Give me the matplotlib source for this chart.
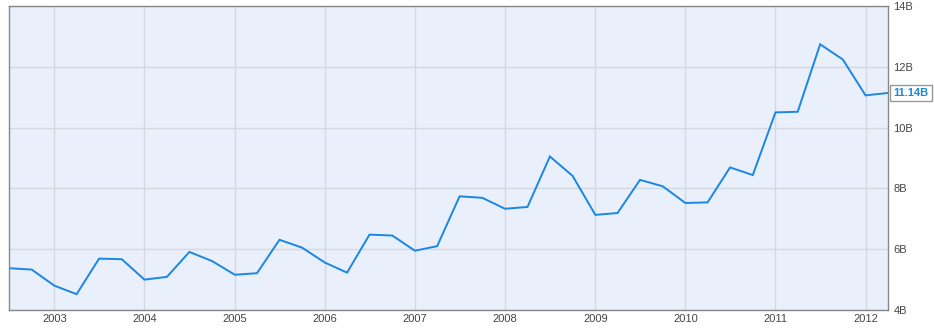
import matplotlib
matplotlib.use("Agg")
import matplotlib.pyplot as plt
import pandas as pd

plt.rcParams['font.family'] = ['Liberation Sans', 'DejaVu Sans']

start_quarter = "2002-07-01"
values = [5.375, 5.33, 4.80, 4.52, 5.69, 5.67, 5.00, 5.09, 5.91, 5.61,
          5.16, 5.21, 6.31, 6.05, 5.56, 5.23, 6.48, 6.45, 5.95, 6.10,
          7.74, 7.69, 7.33, 7.39, 9.05, 8.41, 7.13, 7.19, 8.28, 8.07,
          7.52, 7.54, 8.69, 8.44, 10.50, 10.52, 12.74, 12.24, 11.06, 11.14]
dates = pd.date_range(start_quarter, periods=len(values), freq="QS")
y_ticks = [4, 6, 8, 10, 12, 14]
y_labels = ["4B", "6B", "8B", "10B", "12B", "14B"]
x_years = list(range(2003, 2013))

fig = plt.figure(figsize=(9.34, 3.28), dpi=100)
ax = fig.add_axes([9/934, 18/328, (888-9)/934, (310-6)/328])
ax.set_facecolor("#E9EFFB")
ax.plot(dates, values, color="#1A87E4", lw=1.4, solid_joinstyle="miter")
ax.set_xlim(dates[0], dates[-1])
ax.set_ylim(4, 14)

ax.set_xticks([pd.Timestamp(f"{y}-01-01") for y in x_years])
ax.set_xticklabels([str(y) for y in x_years])
ax.set_yticks(y_ticks)
ax.set_yticklabels(y_labels)
ax.yaxis.tick_right()
ax.grid(True, color="#D5D8DE", lw=1)
ax.set_axisbelow(True)
ax.tick_params(axis="both", length=0, labelsize=8, colors="#444444", pad=3)
ax.tick_params(axis="y", pad=4)
for s in ax.spines.values():
    s.set_color("#888888")
    s.set_linewidth(1)

ax.annotate(f"{values[-1]:.2f}B", xy=(dates[-1], values[-1]), xycoords="data",
            xytext=(3.8, 0), textcoords="offset points", va="center", ha="left",
            fontsize=8, fontweight="bold", color="#1A87E4",
            bbox=dict(boxstyle="square,pad=0.3", fc="white", ec="#999999", lw=1),
            annotation_clip=False)

fig.savefig("out.png", dpi=100)
